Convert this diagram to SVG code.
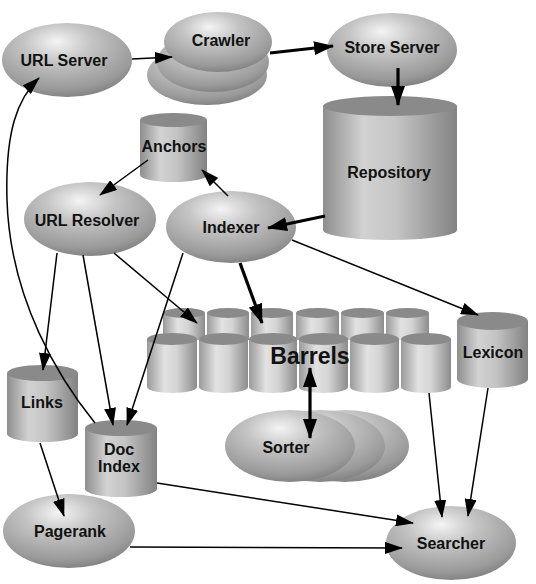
<svg xmlns="http://www.w3.org/2000/svg" width="536" height="584" viewBox="0 0 536 584">
<defs>
<radialGradient id="eg" cx="0.45" cy="0.3" r="0.75" fx="0.42" fy="0.25">
<stop offset="0" stop-color="#f4f4f4"/>
<stop offset="0.35" stop-color="#c4c4c4"/>
<stop offset="0.8" stop-color="#9a9a9a"/>
<stop offset="1" stop-color="#7a7a7a"/>
</radialGradient>
<linearGradient id="cg" x1="0" y1="0" x2="1" y2="0">
<stop offset="0" stop-color="#8e8e8e"/>
<stop offset="0.3" stop-color="#d2d2d2"/>
<stop offset="0.55" stop-color="#c4c4c4"/>
<stop offset="1" stop-color="#828282"/>
</linearGradient>
<linearGradient id="bg" x1="0" y1="0" x2="1" y2="0">
<stop offset="0" stop-color="#9a9a9a"/>
<stop offset="0.35" stop-color="#e2e2e2"/>
<stop offset="0.6" stop-color="#d4d4d4"/>
<stop offset="1" stop-color="#8c8c8c"/>
</linearGradient>
<marker id="ah" markerUnits="userSpaceOnUse" markerWidth="20" markerHeight="12" refX="17" refY="6" orient="auto-start-reverse">
<path d="M0,0 L18,6 L0,12 Z" fill="#000"/>
</marker>
<marker id="ahb" markerUnits="userSpaceOnUse" markerWidth="22" markerHeight="14" refX="19" refY="7" orient="auto-start-reverse">
<path d="M0,0 L20,7 L0,14 Z" fill="#000"/>
</marker>
</defs>
<style>
.el{fill:url(#eg);}
.cb{fill:url(#cg);}
.bb{fill:url(#bg);}
.ct{fill:#8a8a8a;}
.t{font-family:"Liberation Sans",Arial,sans-serif;font-weight:bold;font-size:16px;fill:#111;text-anchor:middle;}
.big{font-size:23px;}
.c{fill:none;stroke:#000;stroke-width:1.5;marker-end:url(#ah);}
.k{fill:none;stroke:#000;stroke-width:3.2;marker-end:url(#ahb);}
</style>
<rect width="536" height="584" fill="#fff"/>

<g id="url-server">
<ellipse class="el" cx="67" cy="60" rx="65" ry="37"/>
<text class="t" x="64" y="66">URL Server</text>
</g>

<g id="crawler">
<ellipse class="el" cx="207" cy="75" rx="60" ry="30"/>
<ellipse class="el" cx="213" cy="62" rx="56" ry="30"/>
<ellipse class="el" cx="218" cy="42" rx="54" ry="30"/>
<text class="t" x="221" y="46">Crawler</text>
</g>

<g id="store-server">
<ellipse class="el" cx="392" cy="50" rx="65" ry="37"/>
<text class="t" x="392" y="53">Store Server</text>
</g>

<g id="repository">
<path class="cb" d="M323,106 L323,230 A67,10 0 0 0 457,230 L457,106 Z"/>
<ellipse class="ct" cx="390" cy="106" rx="67" ry="10"/>
<text class="t" x="389" y="178">Repository</text>
</g>

<g id="anchors">
<path class="cb" d="M140,120 L140,175 A33.5,7 0 0 0 207,175 L207,120 Z"/>
<ellipse class="ct" cx="173.5" cy="120" rx="33.5" ry="7"/>
<text class="t" x="174" y="152">Anchors</text>
</g>

<g id="url-resolver">
<ellipse class="el" cx="90" cy="219" rx="66" ry="37"/>
<text class="t" x="87" y="226">URL Resolver</text>
</g>

<g id="indexer">
<ellipse class="el" cx="231" cy="227" rx="65" ry="36"/>
<text class="t" x="231" y="233">Indexer</text>
</g>

<g id="barrels">
<g>
<path class="bb" d="M163,313 L163,340 L205,340 L205,313 Z"/><ellipse class="ct" cx="184" cy="313" rx="21" ry="5"/>
<path class="bb" d="M207,313 L207,340 L249,340 L249,313 Z"/><ellipse class="ct" cx="228" cy="313" rx="21" ry="5"/>
<path class="bb" d="M251,313 L251,340 L293,340 L293,313 Z"/><ellipse class="ct" cx="272" cy="313" rx="21" ry="5"/>
<path class="bb" d="M296,313 L296,340 L339,340 L339,313 Z"/><ellipse class="ct" cx="317.5" cy="313" rx="21.5" ry="5"/>
<path class="bb" d="M341,313 L341,340 L384,340 L384,313 Z"/><ellipse class="ct" cx="362.5" cy="313" rx="21.5" ry="5"/>
<path class="bb" d="M386,313 L386,340 L429,340 L429,313 Z"/><ellipse class="ct" cx="407.5" cy="313" rx="21.5" ry="5"/>
</g>
<g>
<path class="bb" d="M147,339 L147,387 A25,6 0 0 0 197,387 L197,339 Z"/><ellipse class="ct" cx="172" cy="339" rx="25" ry="6"/>
<path class="bb" d="M199,339 L199,387 A24.5,6 0 0 0 248,387 L248,339 Z"/><ellipse class="ct" cx="223.5" cy="339" rx="24.5" ry="6"/>
<path class="bb" d="M249,339 L249,387 A24,6 0 0 0 297,387 L297,339 Z"/><ellipse class="ct" cx="273" cy="339" rx="24" ry="6"/>
<path class="bb" d="M299,339 L299,387 A24.5,6 0 0 0 348,387 L348,339 Z"/><ellipse class="ct" cx="323.5" cy="339" rx="24.5" ry="6"/>
<path class="bb" d="M350,339 L350,387 A24.5,6 0 0 0 399,387 L399,339 Z"/><ellipse class="ct" cx="374.5" cy="339" rx="24.5" ry="6"/>
<path class="bb" d="M401,339 L401,387 A25,6 0 0 0 451,387 L451,339 Z"/><ellipse class="ct" cx="426" cy="339" rx="25" ry="6"/>
</g>
<text class="t big" x="310" y="364">Barrels</text>
</g>

<g id="lexicon">
<path class="cb" d="M457,321 L457,379 A35.5,9 0 0 0 528,379 L528,321 Z"/>
<ellipse class="ct" cx="492.5" cy="321" rx="35.5" ry="9"/>
<text class="t" x="493" y="358">Lexicon</text>
</g>

<g id="sorter">
<ellipse class="el" cx="345" cy="446" rx="64" ry="36"/>
<ellipse class="el" cx="320" cy="446" rx="65" ry="36"/>
<ellipse class="el" cx="290" cy="446" rx="65" ry="36"/>
<text class="t" x="286" y="453">Sorter</text>
</g>

<g id="links">
<path class="cb" d="M7,373 L7,434 A35.5,8 0 0 0 78,434 L78,373 Z"/>
<ellipse class="ct" cx="42.5" cy="373" rx="35.5" ry="8"/>
<text class="t" x="42" y="408">Links</text>
</g>

<g id="doc-index">
<path class="cb" d="M85,428 L85,489 A36,8 0 0 0 157,489 L157,428 Z"/>
<ellipse class="ct" cx="121" cy="428" rx="36" ry="8"/>
<text class="t" x="119" y="455">Doc</text>
<text class="t" x="119" y="472">Index</text>
</g>

<g id="pagerank">
<ellipse class="el" cx="69" cy="531" rx="66" ry="37"/>
<text class="t" x="70" y="537">Pagerank</text>
</g>

<g id="searcher">
<ellipse class="el" cx="451" cy="543" rx="65" ry="37"/>
<text class="t" x="451" y="549">Searcher</text>
</g>

<g id="connectors">
<path class="c" d="M132,59 L172,57"/>
<path class="k" d="M270,53 L333,46"/>
<path class="k" d="M398,68 L398,105"/>
<path class="k" d="M325,216 L268,228"/>
<path class="c" d="M148,160 L100,195"/>
<path class="c" d="M228,196 L202,170"/>
<path class="c" d="M57,253 L43,370"/>
<path class="c" d="M83,255 L113,425"/>
<path class="c" d="M183,253 L127,425"/>
<path class="c" d="M114,253 L197,323"/>
<path class="k" d="M240,263 L262,323"/>
<path class="c" d="M292,240 L478,315"/>
<path class="c" d="M95,423 C60,380 10,300 7,200 C5,130 18,98 39,78"/>
<path class="c" d="M40,443 L64,516"/>
<path class="c" d="M157,483 L413,523"/>
<path class="c" d="M130,547 L402,548"/>
<path class="c" d="M429,393 L442,517"/>
<path class="c" d="M488,388 L468,516"/>
<path class="k" d="M310,368 L310,438" style="marker-start:url(#ahb)"/>
</g>
</svg>
